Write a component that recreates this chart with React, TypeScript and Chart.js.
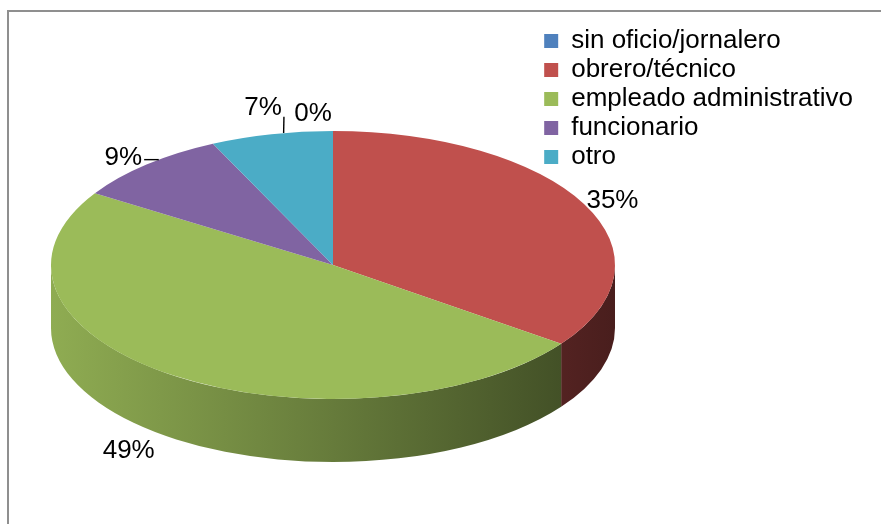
import React, { useEffect, useRef } from 'react';
import { Chart, registerables } from 'chart.js';

Chart.register(...registerables);

// ---- data ----
const categories = ['sin oficio/jornalero', 'obrero/técnico', 'empleado administrativo', 'funcionario', 'otro'];
const percentages = [0, 35, 49, 9, 7];
const valueLabels = ['0%', '35%', '49%', '9%', '7%'];
const colors = ['#4f81bd', '#c0504d', '#9bbb59', '#8064a2', '#4bacc6'];

// ---- presentation ----
const GEOM = { cx: 333, cy: 265, rx: 282, ry: 134, depth: 63 };
const LABEL_NUDGE: [number, number][] = [[-20, -7], [0, 0], [-28, 0], [-7, 0], [-3, -17]];
const FONT = '"Liberation Sans", Arial, sans-serif';

function shade(hex: string, f: number): string {
  const n = parseInt(hex.slice(1), 16);
  const r = Math.round(((n >> 16) & 255) * f);
  const g = Math.round(((n >> 8) & 255) * f);
  const b = Math.round((n & 255) * f);
  return `rgb(${r},${g},${b})`;
}

const pie3d = {
  id: 'pie3d',
  beforeDatasetsDraw(chart: any) {
    const ctx = chart.ctx as CanvasRenderingContext2D;
    const arcs = chart.getDatasetMeta(0).data as any[];
    ctx.save();
    if (!arcs.length) return;
    const { x, y, outerRadius: R } = arcs[0].getProps(['x', 'y', 'outerRadius'], true);
    ctx.translate(GEOM.cx, GEOM.cy);
    ctx.scale(GEOM.rx / R, GEOM.ry / R);
    ctx.translate(-x, -y);
    const d = (GEOM.depth * R) / GEOM.ry;
    arcs.forEach((arc, i) => {
      const { startAngle, endAngle } = arc.getProps(['startAngle', 'endAngle'], true);
      const a0 = Math.max(startAngle, 0);
      const a1 = Math.min(endAngle, Math.PI);
      if (a1 <= a0) return;
      const c = colors[i];
      const g = ctx.createLinearGradient(x - R, 0, x + R, 0);
      g.addColorStop(0, shade(c, 0.92));
      g.addColorStop(0.5, shade(c, 0.66));
      g.addColorStop(1, shade(c, 0.38));
      ctx.beginPath();
      ctx.arc(x, y, R, a0, a1);
      ctx.arc(x, y + d, R, a1, a0, true);
      ctx.closePath();
      ctx.fillStyle = g;
      ctx.fill();
    });
  },
  afterDatasetsDraw(chart: any) {
    const ctx = chart.ctx as CanvasRenderingContext2D;
    ctx.restore();
    const arcs = chart.getDatasetMeta(0).data as any[];
    ctx.save();
    ctx.font = `26px ${FONT}`;
    ctx.fillStyle = '#000';
    ctx.strokeStyle = '#000';
    ctx.lineWidth = 1.4;
    ctx.textAlign = 'center';
    ctx.textBaseline = 'alphabetic';
    arcs.forEach((arc, i) => {
      const { startAngle, endAngle } = arc.getProps(['startAngle', 'endAngle'], true);
      const m = (startAngle + endAngle) / 2;
      const dx = Math.cos(m);
      const dy = Math.sin(m);
      const txt = valueLabels[i];
      const w = ctx.measureText(txt).width;
      const h = 19;
      const k = 1.02;
      let lx = GEOM.cx + dx * (GEOM.rx * k + w / 2);
      let ly = GEOM.cy + dy * (GEOM.ry * k + h / 2) + (dy > 0 ? GEOM.depth : 0);
      lx += LABEL_NUDGE[i][0];
      ly += LABEL_NUDGE[i][1];
      ctx.fillText(txt, lx, ly + 9.3);
      const v = percentages[i];
      if (v > 0 && v < 10) {
        const ta = startAngle + 0.6 * (endAngle - startAngle);
        const tx = GEOM.cx + GEOM.rx * Math.cos(ta);
        const ty = GEOM.cy + GEOM.ry * Math.sin(ta);
        const bx = Math.min(Math.max(tx, lx - w / 2), lx + w / 2);
        const by = Math.min(Math.max(ty, ly - h / 2), ly + h / 2);
        ctx.beginPath();
        ctx.moveTo(bx + (bx < tx ? 2 : 0), by + (by < ty ? 2 : 0));
        ctx.lineTo(tx, ty);
        ctx.stroke();
      }
    });
    ctx.restore();
  },
};

export default function App() {
  const ref = useRef<HTMLCanvasElement>(null);
  useEffect(() => {
    const chart = new Chart(ref.current as HTMLCanvasElement, {
      type: 'pie',
      data: {
        labels: categories,
        datasets: [
          {
            data: percentages,
            backgroundColor: colors,
            borderWidth: 0,
          },
        ],
      },
      options: {
        responsive: false,
        animation: false,
        layout: { padding: { top: 25, right: 18, left: 10, bottom: 10 } },
        plugins: {
          tooltip: { enabled: false },
          legend: {
            position: 'right',
            align: 'start',
            labels: {
              boxWidth: 14,
              boxHeight: 14,
              padding: 3,
              color: '#000',
              font: { family: FONT, size: 26 },
            },
          },
        },
      },
      plugins: [pie3d],
    });
    return () => chart.destroy();
  }, []);
  return (
    <div style={{ position: 'absolute', left: 0, top: 0, width: 881, height: 524, background: '#fff', overflow: 'hidden' }}>
      <div
        style={{
          position: 'absolute',
          left: 7,
          top: 10,
          width: 874,
          height: 514,
          borderLeft: '2px solid #8f8f8f',
          borderTop: '2px solid #8f8f8f',
        }}
      />
      <canvas ref={ref} width={881} height={524} style={{ position: 'absolute', left: 0, top: 0 }} />
    </div>
  );
}
